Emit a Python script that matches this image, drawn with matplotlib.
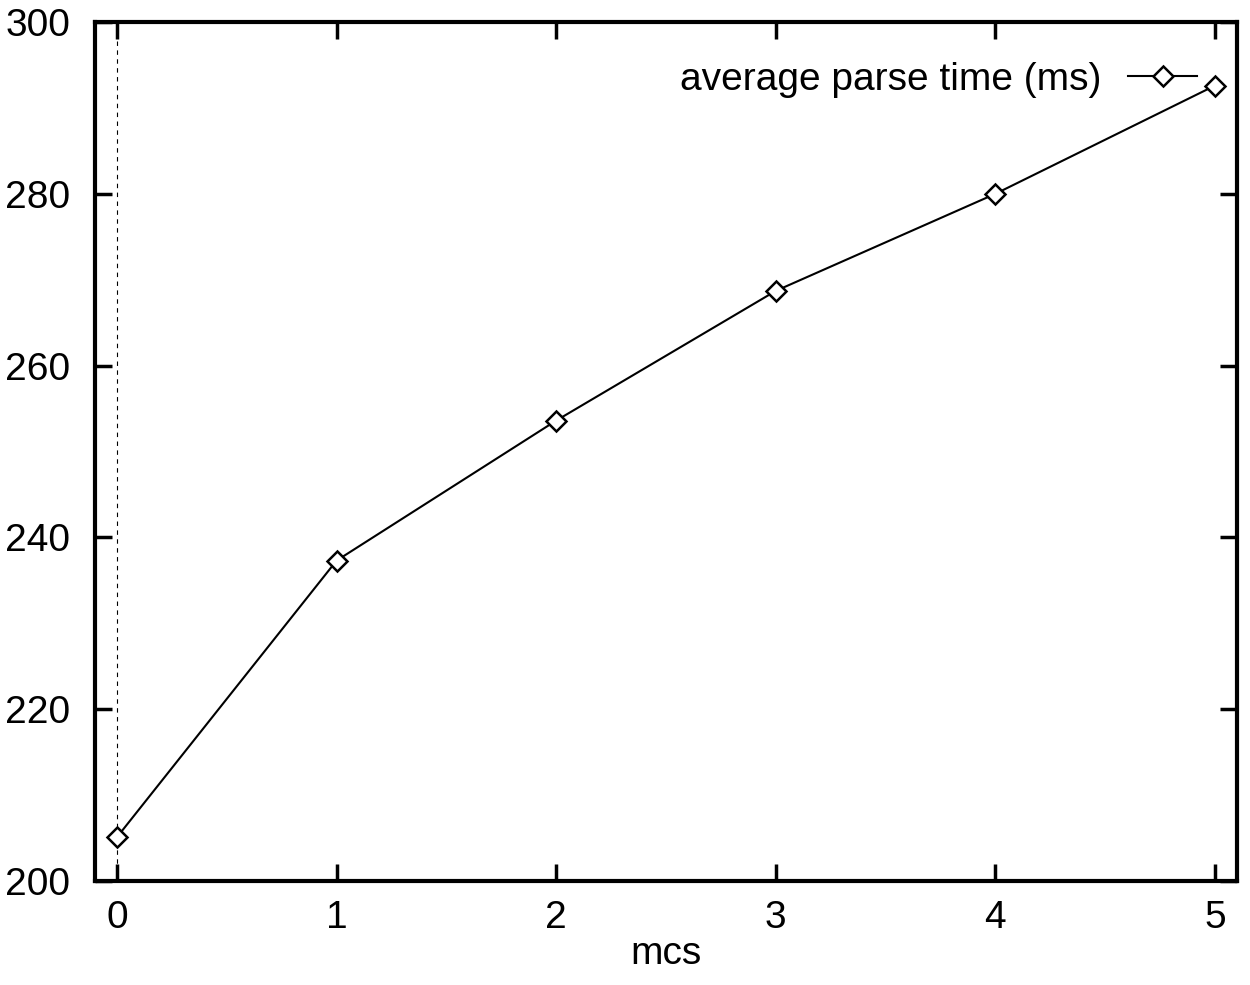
import matplotlib
matplotlib.use("Agg")
import matplotlib.pyplot as plt

plt.rcParams['font.family'] = ['Liberation Sans', 'DejaVu Sans']

# data
mcs = [0, 1, 2, 3, 4, 5]
parse_time = [205.1, 237.3, 253.6, 268.7, 280.0, 292.6]

fig = plt.figure(figsize=(12.5, 9.85), dpi=100)
ax = fig.add_axes([95 / 1250, 1 - 881 / 985, (1237 - 95) / 1250, (881 - 22) / 985])

# gnuplot style zero axis
ax.axvline(0, color='black', lw=0.8, ls=(0, (4, 4)), zorder=1)

ax.plot(mcs, parse_time, color='black', lw=1.5, marker='D', markersize=10,
        markerfacecolor='white', markeredgecolor='black', markeredgewidth=1.8,
        label='average parse time (ms)', zorder=3)

ax.set_xlim(-0.1, 5.1)
ax.set_ylim(200, 300)
ax.set_xticks(mcs)
ax.set_yticks([200, 220, 240, 260, 280, 300])
ax.tick_params(direction='in', length=12, width=2.5, labelsize=28,
               top=True, right=True)
ax.tick_params(axis='x', pad=14)
ax.tick_params(axis='y', pad=18)
for s in ax.spines.values():
    s.set_linewidth(3)

ax.set_xlabel('mcs', fontsize=28, labelpad=0)

leg = ax.legend(loc='center right', frameon=False, fontsize=28, markerfirst=False,
                handlelength=1.77, handletextpad=0.7, borderpad=0, borderaxespad=0,
                bbox_to_anchor=(1197 / 1250, 1 - 80 / 985),
                bbox_transform=fig.transFigure)

fig.savefig('out.png', dpi=100)
